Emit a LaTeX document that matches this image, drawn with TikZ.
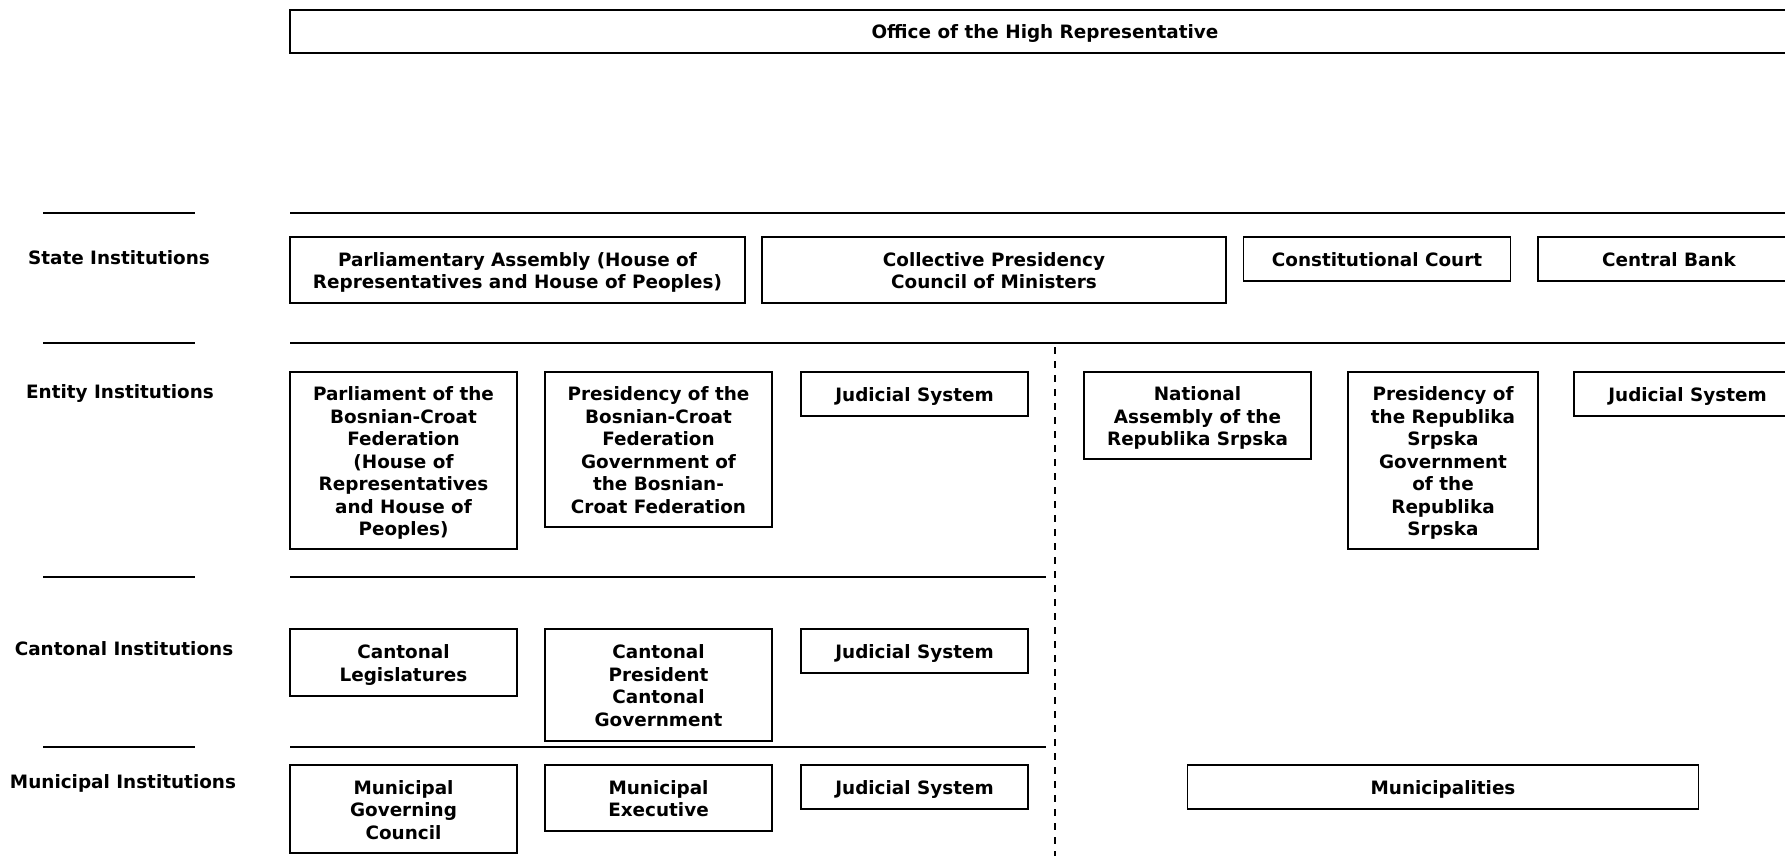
\documentclass[tikz,border=0pt]{standalone}
\usepackage{fontspec}
\setmainfont{DejaVu Sans}
\newcommand\boxtext[1]{\raisebox{-3pt}[\height][\depth]{\begin{tabular}{@{}c@{}}#1\end{tabular}}}
\begin{document}
\begin{tikzpicture}[x=1pt,y=-1pt,
  box/.style={draw=black, line width=1.4pt, inner sep=0pt,
    font=\fontsize{18.4}{22.5}\selectfont\bfseries},
  lbl/.style={inner sep=0pt, align=center, font=\fontsize{18.4}{22.5}\selectfont\bfseries},
  sepline/.style={line width=1.4pt},
  divline/.style={line width=1.4pt, dash pattern=on 7pt off 7pt}]
\useasboundingbox (0,0) rectangle (1785,856);

% level labels
\node[lbl] (lstate) at (119,258) {State Institutions};
\node[lbl] (lentity) at (120,393) {Entity Institutions};
\node[lbl] (lcanton) at (124,649) {Cantonal Institutions};
\node[lbl] (lmunic) at (123,783) {Municipal Institutions};

% separator lines
\foreach \yy in {213,343,577,747} \draw[sepline] (43,\yy) -- (195,\yy);
\draw[sepline] (290,213) -- (1800,213);
\draw[sepline] (290,343) -- (1800,343);
\draw[sepline] (290,577) -- (1046,577);
\draw[sepline] (290,747) -- (1046,747);
\draw[divline] (1055,347) -- (1055,860);

% top
\node[box, minimum width=1510pt, minimum height=43pt] (ohr) at (1045,31.5) {\boxtext{Office of the High Representative}};

% state
\node[box, minimum width=455pt, minimum height=66pt] (pa) at (517.5,270) {\boxtext{Parliamentary Assembly (House of\\Representatives and House of Peoples)}};
\node[box, minimum width=464pt, minimum height=66pt] (cp) at (994,270) {\boxtext{Collective Presidency\\Council of Ministers}};
\node[box, minimum width=267pt, minimum height=44pt] (cc) at (1377,259) {\boxtext{Constitutional Court}};
\node[box, minimum width=262pt, minimum height=44pt] (cb) at (1669,259) {\boxtext{Central Bank}};

% entity
\node[box, minimum width=227pt, minimum height=177pt] (pbcf) at (403.5,460.5) {\boxtext{Parliament of the\\Bosnian-Croat\\Federation\\(House of\\Representatives\\and House of\\Peoples)}};
\node[box, minimum width=227pt, minimum height=155pt] (prbcf) at (658.5,449.5) {\boxtext{Presidency of the\\Bosnian-Croat\\Federation\\Government of\\the Bosnian-\\Croat Federation}};
\node[box, minimum width=227pt, minimum height=44pt] (ejs) at (914.5,394) {\boxtext{Judicial System}};
\node[box, minimum width=227pt, minimum height=87pt] (nars) at (1197.5,415.5) {\boxtext{National\\Assembly of the\\Republika Srpska}};
\node[box, minimum width=190pt, minimum height=177pt] (prs) at (1443,460.5) {\boxtext{Presidency of\\the Republika\\Srpska\\Government\\of the\\Republika\\Srpska}};
\node[box, minimum width=227pt, minimum height=44pt] (rjs) at (1687.5,394) {\boxtext{Judicial System}};

% cantonal
\node[box, minimum width=227pt, minimum height=67pt] (cl) at (403.5,662.5) {\boxtext{Cantonal\\Legislatures}};
\node[box, minimum width=227pt, minimum height=112pt] (cpg) at (658.5,685) {\boxtext{Cantonal\\President\\Cantonal\\Government}};
\node[box, minimum width=227pt, minimum height=44pt] (cjs) at (914.5,651) {\boxtext{Judicial System}};

% municipal
\node[box, minimum width=227pt, minimum height=88pt] (mgc) at (403.5,809) {\boxtext{Municipal\\Governing\\Council}};
\node[box, minimum width=227pt, minimum height=66pt] (me) at (658.5,798) {\boxtext{Municipal\\Executive}};
\node[box, minimum width=227pt, minimum height=44pt] (mjs) at (914.5,787) {\boxtext{Judicial System}};
\node[box, minimum width=510.5pt, minimum height=44pt] (mun) at (1443,787) {\boxtext{Municipalities}};
\end{tikzpicture}
\end{document}
